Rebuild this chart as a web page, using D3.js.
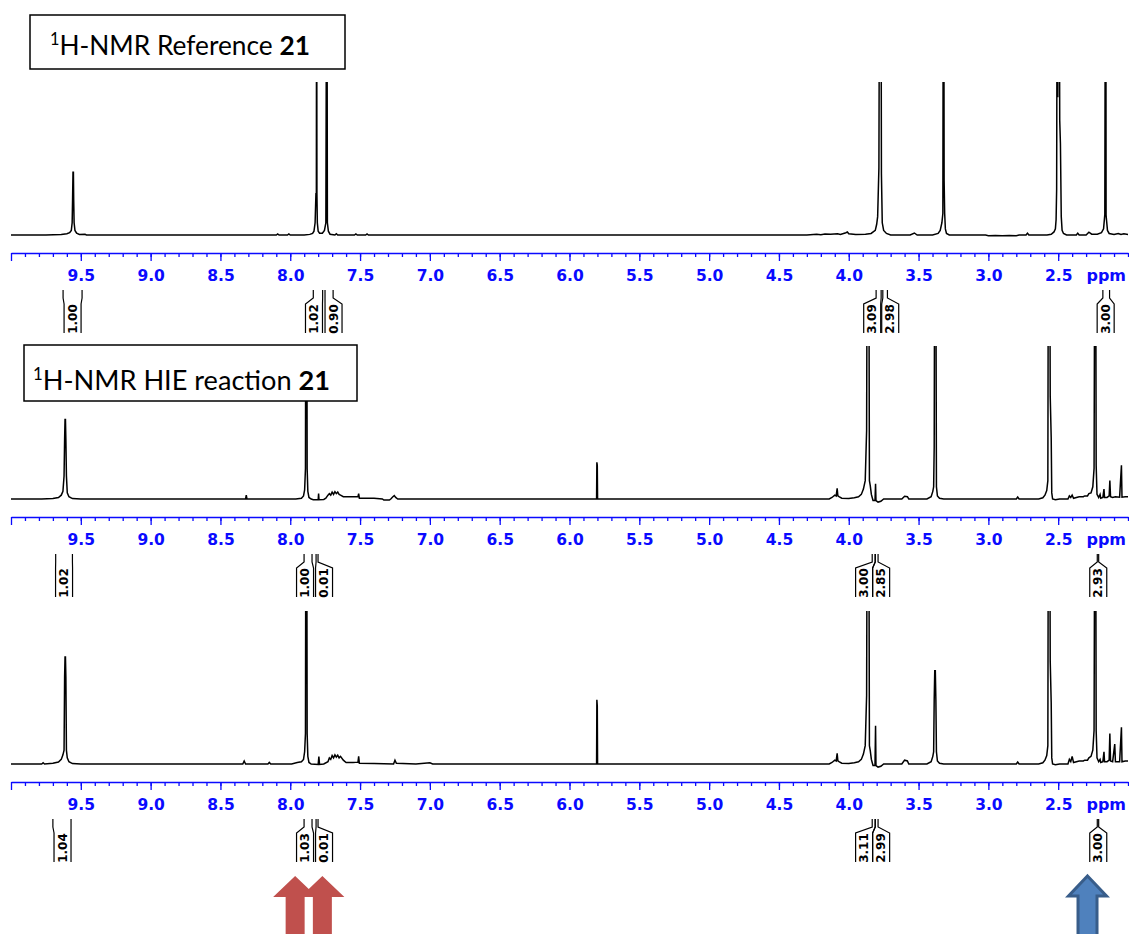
<!DOCTYPE html>
<html>
<head>
<meta charset="utf-8">
<script src="https://cdn.jsdelivr.net/npm/d3@7/dist/d3.min.js"></script>
<style>
  body { margin: 0; background: #fff; }
  svg { display: block; }
</style>
</head>
<body>
<svg id="chart" width="1129" height="934"></svg>
<script>
// ---- data: [ppm, intensity] (100 = top of each panel) ----
const refSpec = [
  [10.0,0],[9.75,0],[9.64,0.3],[9.60,0.8],[9.58,1.5],[9.568,3],[9.562,8],[9.559,23],[9.556,41],[9.553,41],[9.551,23],
  [9.548,8],[9.542,3],[9.53,1.2],[9.51,0.4],[9.47,0.5],[9.46,0],
  [8.10,0],[8.09,0.7],[8.08,0],[8.02,0],[8.01,0.7],[8.0,0],
  [7.90,0],[7.86,0.4],[7.84,1],[7.83,2.5],[7.822,8],[7.816,27],[7.813,27],[7.811,250],[7.809,27],[7.806,8],[7.80,2.5],
  [7.79,1.2],[7.77,1.2],[7.755,3],[7.745,8],[7.738,250],[7.734,8],[7.727,2.5],[7.715,0.5],[7.68,0],[7.67,0.8],[7.66,0],
  [7.54,0],[7.53,0.7],[7.52,0],[7.46,0],[7.45,0.7],[7.44,0],
  [4.30,0],[4.23,0.5],[4.20,0.2],[4.17,0.7],[4.13,0.5],[4.08,0.8],[4.06,0.4],[4.02,1.5],[4.01,2],[4.00,0.8],[3.95,0.3],
  [3.88,0.5],[3.84,1],[3.81,3],[3.80,7],[3.793,12],[3.784,44],[3.778,250],[3.776,150],[3.774,250],[3.772,130],[3.770,250],
  [3.766,40],[3.760,8],[3.75,3],[3.73,1],[3.70,0],
  [3.56,0],[3.53,1.3],[3.51,0],
  [3.40,0],[3.36,1],[3.345,3],[3.333,8],[3.326,14],[3.322,250],[3.320,250],[3.317,36],[3.313,14],[3.308,4],[3.30,1],[3.28,0],
  [3.02,0],[3.00,-0.5],[2.95,-0.3],[2.90,-0.5],[2.85,-0.3],[2.80,-0.5],[2.78,0],[2.73,0],[2.72,1.2],[2.71,0],
  [2.58,0],[2.55,0.5],[2.53,2],[2.52,4],[2.515,10],[2.511,30],[2.506,250],[2.503,90],[2.500,250],[2.497,110],[2.494,250],
  [2.489,75],[2.484,60],[2.478,12],[2.472,3],[2.462,1],[2.44,0],[2.37,0],[2.36,1.2],[2.35,0],[2.30,0],[2.28,1.8],[2.26,0.5],
  [2.22,0.5],[2.19,1.5],[2.175,4],[2.166,13.5],[2.161,250],[2.159,250],[2.157,13],[2.153,9],[2.147,3],[2.135,1],[2.10,0.3],
  [2.07,1.0],[2.05,0.3],[2.03,0.8],[2.0,0.3]
];

const hieSpecA = [
  [10.0,0],[9.78,0],[9.70,0.3],[9.66,1],[9.64,2.5],[9.628,5],[9.62,15],[9.616,39],[9.613,52],[9.610,52],[9.607,39],
  [9.603,15],[9.597,4],[9.585,1.5],[9.56,0.3],[9.50,0],
  [8.32,0],[8.315,2.5],[8.31,0],
  [7.96,0],[7.92,0.5],[7.905,2],[7.897,6],[7.891,20],[7.887,250],[7.885,250],[7.883,250],[7.879,20],[7.874,5],[7.866,1],[7.85,0],
  [7.835,-0.5],[7.80,-0.5],[7.797,3.5],[7.794,-0.5],[7.76,-0.3],[7.745,0.5],[7.73,2.5],[7.72,3.5],[7.71,2.5],[7.70,4.5],
  [7.69,3],[7.68,4.8],[7.67,3.5],[7.66,4.5],[7.65,3],[7.64,2.5],[7.62,1.5],[7.55,1.5],[7.515,1.5],[7.51,3.5],[7.505,0.5],
  [7.40,0.5],[7.34,0],[7.33,-0.7],[7.29,-0.7],[7.28,0],[7.265,1.5],[7.255,2.2],[7.245,1],[7.23,0],
  [5.82,0],[5.806,0],[5.804,24],[5.801,22],[5.799,0],
  [4.30,0],[4.14,0],[4.12,1],[4.10,2.5],[4.09,2],[4.083,7],[4.078,2],[4.07,1.5],[4.05,0.5],[4.00,0.3],[3.96,0.8],
  [3.93,1.5],[3.91,3],[3.895,6.5],[3.882,12],[3.872,45],[3.866,250],[3.864,180],[3.862,250],[3.860,220],[3.858,250],
  [3.852,12],[3.846,8.7],[3.838,3],[3.832,1],[3.826,-1],[3.812,-1],[3.808,10],[3.805,-1],[3.79,-2],[3.77,-1.5],[3.75,0],
  [3.62,0],[3.60,1.8],[3.58,1.5],[3.57,0],
  [3.44,0],[3.41,1.5],[3.398,5],[3.392,8],[3.388,34],[3.383,250],[3.381,250],[3.378,230],[3.372,8],[3.365,2],[3.35,0.5],[3.32,0],
  [2.80,0],[2.79,1.3],[2.78,0],
  [2.64,0],[2.61,0.8],[2.595,2.5],[2.582,5.5],[2.574,12],[2.569,250],[2.566,250],[2.563,250],[2.557,67],[2.550,40],
  [2.546,4],[2.54,0],[2.52,-0.5],[2.49,0],[2.43,0],[2.42,2],[2.41,1],[2.40,2.5],[2.39,0.5],[2.35,1.5],[2.32,1.5],[2.31,2],
  [2.29,2],[2.28,3.5],[2.265,4],[2.252,8],[2.243,20],[2.236,250],[2.233,250],[2.228,22],[2.222,3],[2.21,1],[2.20,3],
  [2.195,0.5],[2.18,1],[2.172,6.5],[2.168,1],[2.15,1],[2.135,2],[2.13,12],[2.125,1.5],[2.11,1],[2.09,1.5],[2.06,1.2],
  [2.047,22],[2.043,1.2],[2.02,1.5],[2.0,1.5]
];

const hieSpecB = [
  [10.0,0],[9.78,0],[9.77,0.8],[9.76,0],[9.70,0.5],[9.66,1.3],[9.64,3],[9.628,6],[9.62,9],[9.616,57],[9.613,70],[9.610,70],
  [9.607,57],[9.603,9],[9.597,4],[9.585,1.5],[9.56,0.3],[9.50,0],
  [8.34,0],[8.33,2],[8.32,0],[8.16,0],[8.15,1],[8.14,0],
  [7.99,0],[7.95,1],[7.92,1.5],[7.905,3],[7.897,8],[7.891,20],[7.887,250],[7.885,250],[7.883,250],[7.879,20],[7.874,5],[7.866,1],
  [7.85,0],[7.80,-0.3],[7.795,4.8],[7.79,-0.3],[7.76,0],[7.73,1.5],[7.72,4],[7.71,3],[7.70,5.5],[7.69,4],[7.68,6],
  [7.67,4.5],[7.66,5.8],[7.65,4],[7.64,5],[7.62,2.5],[7.60,1],[7.55,1],[7.515,1.2],[7.51,5],[7.505,0.5],[7.40,0.3],
  [7.26,0],[7.25,2.5],[7.24,0.5],[7.10,0],[7.00,0.8],[6.98,0],
  [5.82,0],[5.806,0],[5.804,42],[5.801,38],[5.799,0],
  [4.30,0],[4.14,0],[4.12,1],[4.10,2.5],[4.09,2],[4.083,7],[4.078,2],[4.07,1.5],[4.05,0.5],[4.00,0.3],[3.96,0.8],
  [3.93,1.5],[3.91,3],[3.895,6.5],[3.882,12],[3.872,45],[3.866,250],[3.864,180],[3.862,250],[3.860,220],[3.858,250],
  [3.852,12],[3.846,8.7],[3.838,3],[3.832,1],[3.826,-1],[3.812,-1],[3.808,25],[3.805,-1],[3.79,-2],[3.77,-1.5],[3.75,0],
  [3.62,0],[3.60,2.5],[3.58,2],[3.57,0],
  [3.44,0],[3.41,1.5],[3.398,5],[3.392,8],[3.388,42],[3.384,61],[3.380,61],[3.376,42],[3.372,8],[3.365,2],[3.35,0.5],[3.32,0],
  [2.80,0],[2.79,1.3],[2.78,0],
  [2.64,0],[2.61,0.8],[2.595,2.5],[2.582,5.5],[2.574,12],[2.569,250],[2.566,250],[2.563,250],[2.557,67],[2.550,40],
  [2.546,4],[2.54,0],[2.52,-0.5],[2.49,0],[2.43,0],[2.42,3],[2.41,1.5],[2.40,5],[2.39,1],[2.35,2],[2.32,2],[2.31,2.5],
  [2.29,2.5],[2.28,4],[2.265,5],[2.252,9],[2.243,22],[2.236,250],[2.233,250],[2.228,22],[2.222,4],[2.21,1.5],[2.20,3],
  [2.195,1],[2.18,1.5],[2.172,8],[2.168,1.5],[2.15,1.5],[2.135,2.5],[2.13,20],[2.125,2],[2.11,1.5],[2.095,13],[2.09,1.5],
  [2.06,1.5],[2.047,24],[2.043,1.5],[2.02,2],[2.0,2]
];

// integral regions: value, region limits (ppm), label centre (ppm)
const refInts = [
  { v: '1.00', from: 9.627, to: 9.491, at: 9.559 },
  { v: '1.02', from: 7.835, to: 7.768, at: 7.830 },
  { v: '0.90', from: 7.751, to: 7.693, at: 7.690 },
  { v: '3.09', from: 3.804, to: 3.768, at: 3.832 },
  { v: '2.98', from: 3.756, to: 3.723, at: 3.703 },
  { v: '3.00', from: 2.180, to: 2.132, at: 2.160 }
];
const hieIntsA = [
  { v: '1.02', from: 9.680, to: 9.560, at: 9.620 },
  { v: '1.00', from: 7.901, to: 7.844, at: 7.894 },
  { v: '0.01', from: 7.815, to: 7.801, at: 7.758 },
  { v: '3.00', from: 3.832, to: 3.811, at: 3.890 },
  { v: '2.85', from: 3.810, to: 3.790, at: 3.768 },
  { v: '2.93', from: 2.220, to: 2.210, at: 2.213 }
];
const hieIntsB = [
  { v: '1.04', from: 9.700, to: 9.570, at: 9.631 },
  { v: '1.03', from: 7.901, to: 7.844, at: 7.894 },
  { v: '0.01', from: 7.815, to: 7.801, at: 7.758 },
  { v: '3.11', from: 3.832, to: 3.811, at: 3.890 },
  { v: '2.99', from: 3.810, to: 3.790, at: 3.768 },
  { v: '3.00', from: 2.220, to: 2.210, at: 2.213 }
];

const tickLabels = ['9.5','9.0','8.5','8.0','7.5','7.0','6.5','6.0','5.5','5.0','4.5','4.0','3.5','3.0','2.5'];
const axisUnit = 'ppm';
const titles = [
  { pre: 'H-NMR Reference ', num: '21' },
  { pre: 'H-NMR HIE reaction ', num: '21' }
];
const redArrowsPpm = [7.965, 7.77];
const blueArrowsPpm = [2.29];

// ---- layout ----
const svg = d3.select('#chart');
const x = d3.scaleLinear().domain([10.0, 2.0]).range([11, 1128]);
const BLUE = '#0a0aff';

const panels = [
  { spec: refSpec, ints: refInts, top: 82, base: 235, axis: 253 },
  { spec: hieSpecA, ints: hieIntsA, top: 346, base: 499, axis: 517 },
  { spec: hieSpecB, ints: hieIntsB, top: 611, base: 764, axis: 782 }
];

const majorVals = [10.0].concat(tickLabels.map(Number));
const minorVals = d3.range(20, 100).map(d => d / 10);

panels.forEach((p, i) => {
  const y = d3.scaleLinear().domain([0, 100]).range([p.base, p.top]);

  svg.append('clipPath').attr('id', 'clip' + i)
    .append('rect')
    .attr('x', 0).attr('y', p.top)
    .attr('width', 1129).attr('height', p.base - p.top + 12);

  svg.append('path')
    .datum(p.spec)
    .attr('clip-path', `url(#clip${i})`)
    .attr('fill', 'none')
    .attr('stroke', '#000')
    .attr('stroke-width', 1.5)
    .attr('d', d3.line().x(d => x(d[0])).y(d => y(d[1])));

  // minor ticks
  const minor = svg.append('g')
    .attr('transform', `translate(0,${p.axis})`)
    .call(d3.axisBottom(x).tickValues(minorVals).tickSize(4).tickSizeOuter(0).tickFormat(''));
  minor.select('.domain').remove();
  minor.selectAll('line').attr('stroke', BLUE).attr('stroke-width', 1.3);

  // major ticks + labels
  const major = svg.append('g')
    .attr('transform', `translate(0,${p.axis})`)
    .call(d3.axisBottom(x).tickValues(majorVals).tickSize(8).tickSizeOuter(0)
      .tickFormat(d => d >= 10 ? '' : d.toFixed(1)));
  major.select('.domain').attr('stroke', BLUE).attr('stroke-width', 1.6);
  major.selectAll('line').attr('stroke', BLUE).attr('stroke-width', 1.3);
  major.selectAll('text')
    .attr('fill', BLUE)
    .attr('y', 28).attr('dy', 0)
    .style('font', 'bold 15.5px "DejaVu Sans", sans-serif');

  svg.append('text')
    .attr('x', 1126).attr('y', p.axis + 28)
    .attr('text-anchor', 'end')
    .attr('fill', BLUE)
    .style('font', 'bold 16px "DejaVu Sans", sans-serif')
    .text(axisUnit);

  // integrals
  const t = p.axis + 37, j1 = p.axis + 45, j2 = p.axis + 51, bot = p.axis + 80, hw = 8.5;
  const ig = svg.append('g');
  p.ints.forEach(it => {
    const lx = x(it.at), a = x(it.from), b = x(it.to);
    ig.append('path')
      .attr('fill', 'none').attr('stroke', '#000').attr('stroke-width', 1.2)
      .attr('d', `M${a},${t}V${j1}L${lx - hw},${j2}V${bot}M${b},${t}V${j1}L${lx + hw},${j2}V${bot}`);
    ig.append('text')
      .attr('transform', `translate(${lx},${p.axis + 66}) rotate(-90)`)
      .attr('text-anchor', 'middle')
      .attr('dominant-baseline', 'central')
      .style('font', 'bold 12px "DejaVu Sans", sans-serif')
      .text(it.v);
  });
});

// title boxes
const boxes = [
  { x: 30, y: 15, w: 315, h: 54, tx: 50, ty: 55, tw: 260 },
  { x: 24, y: 345, w: 333, h: 56, tx: 33, ty: 390, tw: 297 }
];
boxes.forEach((b, i) => {
  svg.append('rect')
    .attr('x', b.x).attr('y', b.y).attr('width', b.w).attr('height', b.h)
    .attr('fill', '#fff').attr('stroke', '#000').attr('stroke-width', 1.5);
  const txt = svg.append('text')
    .attr('x', b.tx).attr('y', b.ty)
    .style('font-family', 'Lato, "Open Sans", sans-serif')
    .style('font-size', '26px');
  txt.append('tspan').text('1').style('font-size', '16px').attr('dy', -10);
  txt.append('tspan').text(titles[i].pre).attr('dy', 10);
  txt.append('tspan').text(titles[i].num).style('font-weight', 'bold');
  const w = txt.node().getComputedTextLength();
  const fs = 26 * b.tw / w;
  txt.style('font-size', fs + 'px');
  txt.select('tspan').style('font-size', (fs * 0.62) + 'px').attr('dy', -fs * 0.38);
  txt.selectAll('tspan').filter((d, k) => k === 1).attr('dy', fs * 0.38);
});

// arrows
function arrowPath(cx, tip, base, headHW, shaftHW, bottom) {
  return `M${cx},${tip}L${cx + headHW},${base}L${cx + shaftHW},${base}L${cx + shaftHW},${bottom}` +
    `L${cx - shaftHW},${bottom}L${cx - shaftHW},${base}L${cx - headHW},${base}Z`;
}
redArrowsPpm.forEach(p => {
  svg.append('path')
    .attr('d', arrowPath(x(p), 876, 897, 22, 9.5, 940))
    .attr('fill', '#c0504d');
});
blueArrowsPpm.forEach(p => {
  svg.append('path')
    .attr('d', arrowPath(x(p), 876, 896, 19, 9.5, 940))
    .attr('fill', '#4f81bd')
    .attr('stroke', '#385d8a')
    .attr('stroke-width', 3);
});
</script>
</body>
</html>
